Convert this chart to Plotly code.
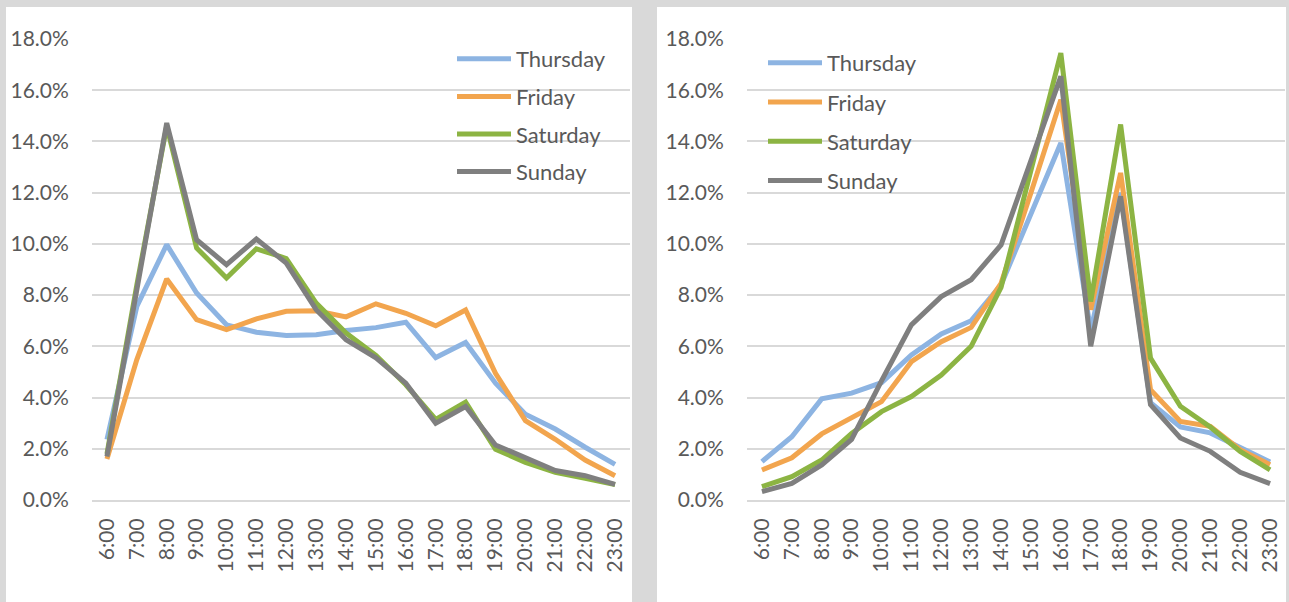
import plotly.graph_objects as go

hours = ["6:00", "7:00", "8:00", "9:00", "10:00", "11:00", "12:00", "13:00", "14:00",
         "15:00", "16:00", "17:00", "18:00", "19:00", "20:00", "21:00", "22:00", "23:00"]

series_names = ["Thursday", "Friday", "Saturday", "Sunday"]
series_colors = ["#8DB4E2", "#F2A54E", "#8CB443", "#7F7F7F"]

# Left panel (values in %)
thu_left = [2.36, 7.56, 9.97, 8.08, 6.84, 6.55, 6.42, 6.45, 6.62, 6.73, 6.94, 5.56, 6.15, 4.56, 3.35, 2.77, 2.06, 1.39]
fri_left = [1.60, 5.48, 8.63, 7.04, 6.65, 7.07, 7.37, 7.39, 7.15, 7.66, 7.29, 6.80, 7.42, 4.95, 3.10, 2.37, 1.56, 0.95]
sat_left = [1.80, 8.40, 14.60, 9.84, 8.67, 9.81, 9.43, 7.69, 6.52, 5.65, 4.50, 3.15, 3.82, 1.98, 1.47, 1.08, 0.85, 0.60]
sun_left = [1.70, 8.10, 14.72, 10.16, 9.19, 10.19, 9.25, 7.43, 6.26, 5.55, 4.56, 3.00, 3.65, 2.15, 1.65, 1.15, 0.95, 0.61]

# Right panel (values in %)
thu_right = [1.50, 2.47, 3.95, 4.17, 4.58, 5.66, 6.48, 7.00, 8.40, 11.16, 13.94, 6.60, 12.00, 3.80, 2.85, 2.62, 2.03, 1.48]
fri_right = [1.17, 1.65, 2.58, 3.19, 3.84, 5.40, 6.18, 6.74, 8.46, 12.00, 15.63, 7.43, 12.77, 4.31, 3.07, 2.88, 1.96, 1.38]
sat_right = [0.52, 0.91, 1.56, 2.60, 3.45, 4.04, 4.88, 6.00, 8.30, 12.90, 17.45, 7.75, 14.66, 5.54, 3.66, 2.85, 1.90, 1.18]
sun_right = [0.33, 0.65, 1.37, 2.37, 4.65, 6.84, 7.94, 8.60, 9.96, 13.30, 16.54, 6.00, 11.86, 3.72, 2.42, 1.90, 1.08, 0.64]

y_ticks = [0, 2, 4, 6, 8, 10, 12, 14, 16, 18]
y_tick_labels = ["0.0%", "2.0%", "4.0%", "6.0%", "8.0%", "10.0%", "12.0%", "14.0%", "16.0%", "18.0%"]

left_series = [thu_left, fri_left, sat_left, sun_left]
right_series = [thu_right, fri_right, sat_right, sun_right]

W, H = 1289, 602
FONT = "Lato, 'Open Sans', sans-serif"
TXT = "#595959"
GRID = "#D9D9D9"

fig = go.Figure()

for name, color, vals in zip(series_names, series_colors, left_series):
    fig.add_trace(go.Scatter(x=hours, y=vals, mode="lines", name=name,
                             line=dict(color=color, width=5),
                             xaxis="x", yaxis="y", legend="legend",
                             legendgroup="L" + name))
for name, color, vals in zip(series_names, series_colors, right_series):
    fig.add_trace(go.Scatter(x=hours, y=vals, mode="lines", name=name,
                             line=dict(color=color, width=5),
                             xaxis="x2", yaxis="y2", legend="legend2",
                             legendgroup="R" + name))

def px_x(p):
    return p / W

def px_y(p):
    return 1 - p / H

yaxis_common = dict(range=[0, 18], tickmode="array", tickvals=y_ticks, ticktext=y_tick_labels,
                    showgrid=True, gridcolor=GRID, gridwidth=2, zeroline=False,
                    showline=False, ticks="outside", ticklen=18,
                    tickcolor="rgba(0,0,0,0)",
                    tickfont=dict(family=FONT, size=21, color=TXT),
                    domain=[px_y(500), px_y(39)], fixedrange=True, automargin=False)
xaxis_common = dict(type="category", tickangle=-90, showgrid=False, zeroline=False,
                    showline=True, linecolor=GRID, linewidth=2,
                    ticks="outside", ticklen=8, tickcolor="rgba(0,0,0,0)",
                    tickfont=dict(family=FONT, size=21, color=TXT),
                    range=[-0.5, 17.5], fixedrange=True, automargin=False)

legend_common = dict(font=dict(family=FONT, size=22, color=TXT),
                     bgcolor="rgba(0,0,0,0)", traceorder="grouped",
                     xanchor="left", yanchor="top", itemwidth=54)

fig.update_layout(
    width=W, height=H, autosize=False,
    margin=dict(l=0, r=0, t=0, b=0, pad=0),
    paper_bgcolor="#D9D9D9",
    plot_bgcolor="white",
    showlegend=True,
    xaxis=dict(xaxis_common, domain=[px_x(92), px_x(630)], anchor="y"),
    yaxis=dict(yaxis_common, anchor="x"),
    xaxis2=dict(xaxis_common, domain=[px_x(747), px_x(1285)], anchor="y2"),
    yaxis2=dict(yaxis_common, anchor="x2"),
    legend=dict(legend_common, x=px_x(452), y=px_y(38), tracegroupgap=6),
    legend2=dict(legend_common, x=px_x(763), y=px_y(42), tracegroupgap=7.6),
    shapes=[
        dict(type="rect", xref="paper", yref="paper", layer="below",
             x0=px_x(6), x1=px_x(632), y0=0, y1=px_y(7),
             fillcolor="white", line=dict(width=0)),
        dict(type="rect", xref="paper", yref="paper", layer="below",
             x0=px_x(657), x1=px_x(1286), y0=0, y1=px_y(7),
             fillcolor="white", line=dict(width=0)),
    ],
)

fig.write_html("out.html", config={"displayModeBar": False},
               post_script="document.body.style.margin='0';document.body.style.overflow='hidden';")
